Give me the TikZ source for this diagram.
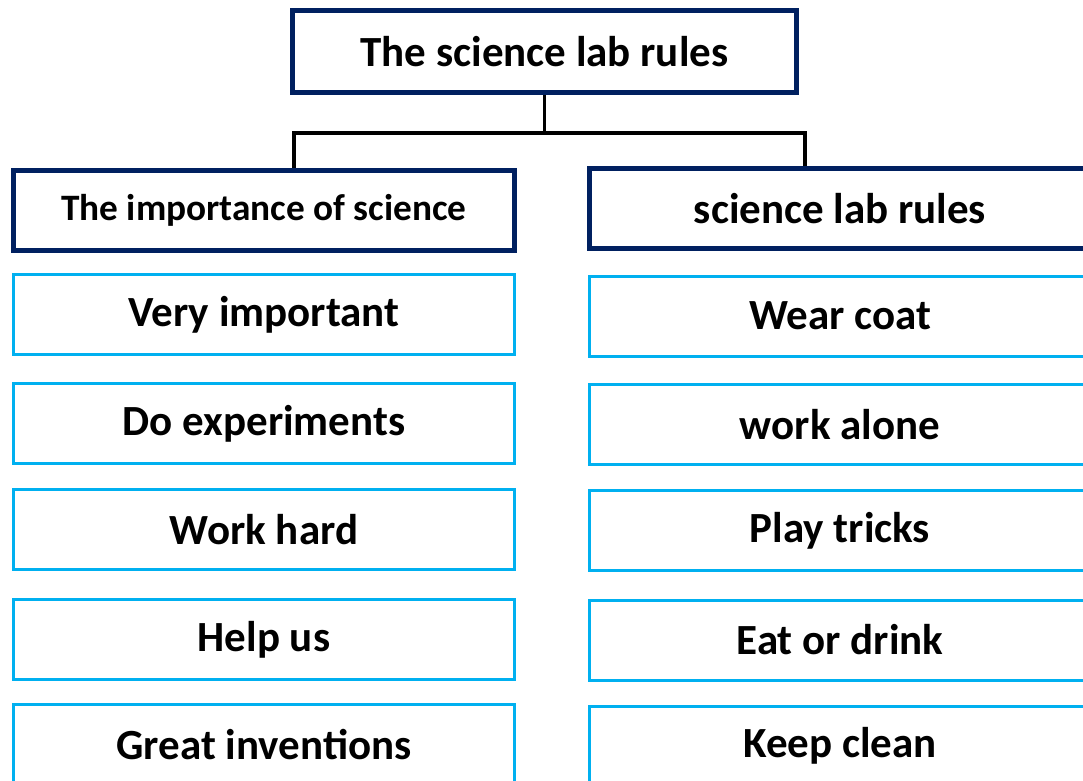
\documentclass[tikz,border=0pt]{standalone}
\usepackage{fontspec}
\setmainfont{Carlito}
\definecolor{navy}{HTML}{002060}
\definecolor{cyanb}{HTML}{00B0F0}
\tikzset{
  navybox/.style={draw=navy, line width=5pt, rectangle, inner sep=0pt, minimum width=501pt, minimum height=80pt, font=\fontsize{43}{50}\selectfont\bfseries},
  cyanbox/.style={draw=cyanb, line width=3pt, rectangle, inner sep=0pt, minimum width=501pt, minimum height=80pt, font=\fontsize{43}{50}\selectfont\bfseries},
  conn/.style={draw=black, line width=3.5pt}
}
\begin{document}
\begin{tikzpicture}[x=1pt,y=-1pt]
\useasboundingbox (0,0) rectangle (1083,780);
\clip (0,0) rectangle (1083,780);
\node[navybox, minimum width=504pt, minimum height=82pt] (top) at (544.5,51.5) {The science lab rules};
\node[navybox, font=\fontsize{37.3}{44}\selectfont\bfseries] (hl) at (264,210.5) {The importance of science};
\node[navybox] (hr) at (840,208.5) {science lab rules};
\node[cyanbox] (l1) at (264,314.5) {Very important};
\node[cyanbox] (l2) at (264,423.5) {Do experiments};
\node[cyanbox] (l3) at (264,529.5) {Work hard};
\node[cyanbox] (l4) at (264,639.5) {Help us};
\node[cyanbox] (l5) at (264,744.5) {Great inventions};
\node[cyanbox] (r1) at (840,316) {Wear coat};
\node[cyanbox] (r2) at (840,424.5) {work alone};
\node[cyanbox] (r3) at (840,530.5) {Play tricks};
\node[cyanbox] (r4) at (840,640) {Eat or drink};
\node[cyanbox] (r5) at (840,746) {Keep clean};
\coordinate (bl) at (294,133);
\coordinate (br) at (805,133);
\draw[conn] (top.south) -- (top.south |- bl);
\draw[conn] (hl.north -| bl) -- (bl) -- (br) -- (hr.north -| br);
\end{tikzpicture}
\end{document}
